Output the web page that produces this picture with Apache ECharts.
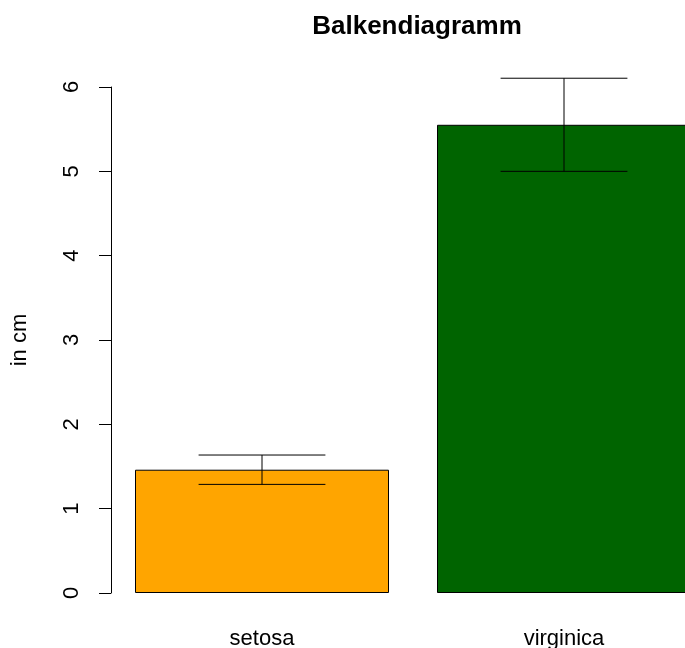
<!DOCTYPE html>
<html>
<head>
<meta charset="utf-8">
<script src="https://cdn.jsdelivr.net/npm/echarts@6/dist/echarts.min.js"></script>
<style>
  html, body { margin: 0; padding: 0; background: #fff; overflow: hidden; }
  /* the plotting region runs past the right edge of the window */
  #chart { width: 715px; height: 648px; }
</style>
</head>
<body>
<div id="chart"></div>
<script>
// Iris petal length: mean per species with ± one standard deviation
const species = ['setosa', 'virginica'];
const meanLength = [1.462, 5.552];
const lowerBound = [1.288, 5.000];
const upperBound = [1.636, 6.104];
const barColors = ['#FFA500', '#006400'];
const yTicks = [0, 1, 2, 3, 4, 5, 6];

const FONT = '"Liberation Sans", Arial, sans-serif';

const chart = echarts.init(document.getElementById('chart'), null, { renderer: 'canvas' });

const errorData = species.map((s, i) => [i, lowerBound[i], upperBound[i]]);

chart.setOption({
  animation: false,
  backgroundColor: '#ffffff',
  title: {
    text: 'Balkendiagramm',
    left: 412,
    textAlign: 'center',
    top: 9,
    textStyle: { fontFamily: FONT, fontSize: 26, fontWeight: 'bold', color: '#000' }
  },
  grid: { left: 111, right: 0, top: 87, bottom: 55, containLabel: false, outerBoundsMode: 'none' },
  xAxis: {
    type: 'category',
    data: species,
    axisLine: { show: false },
    axisTick: { show: false },
    axisLabel: { margin: 35, fontFamily: FONT, fontSize: 22, color: '#000' }
  },
  yAxis: {
    type: 'value',
    min: yTicks[0],
    max: yTicks[yTicks.length - 1],
    interval: 1,
    name: 'in cm',
    nameLocation: 'middle',
    nameRotate: 90,
    nameGap: 80,
    nameTextStyle: { fontFamily: FONT, fontSize: 22, color: '#000' },
    splitLine: { show: false },
    axisLine: { show: true, lineStyle: { color: '#000', width: 1 } },
    axisTick: { show: true, length: 12, lineStyle: { color: '#000', width: 1 } },
    axisLabel: { rotate: 90, margin: 28, fontFamily: FONT, fontSize: 22, color: '#000' }
  },
  series: [
    {
      type: 'bar',
      barWidth: 254,
      z: 2,
      data: meanLength.map((v, i) => ({
        value: v,
        itemStyle: { color: barColors[i], borderColor: '#000', borderWidth: 1 }
      }))
    },
    {
      type: 'custom',
      clip: false,
      z: 5,
      data: errorData,
      renderItem: function (params, api) {
        const x = api.value(0);
        const lo = api.coord([x, api.value(1)]);
        const hi = api.coord([x, api.value(2)]);
        const half = api.size([1, 0])[0] * 0.21;
        const style = { stroke: '#000', lineWidth: 1 };
        return {
          type: 'group',
          children: [
            { type: 'line', shape: { x1: lo[0], y1: lo[1], x2: hi[0], y2: hi[1] }, style },
            { type: 'line', shape: { x1: lo[0] - half, y1: lo[1], x2: lo[0] + half, y2: lo[1] }, style },
            { type: 'line', shape: { x1: hi[0] - half, y1: hi[1], x2: hi[0] + half, y2: hi[1] }, style }
          ]
        };
      }
    }
  ]
});
</script>
</body>
</html>
